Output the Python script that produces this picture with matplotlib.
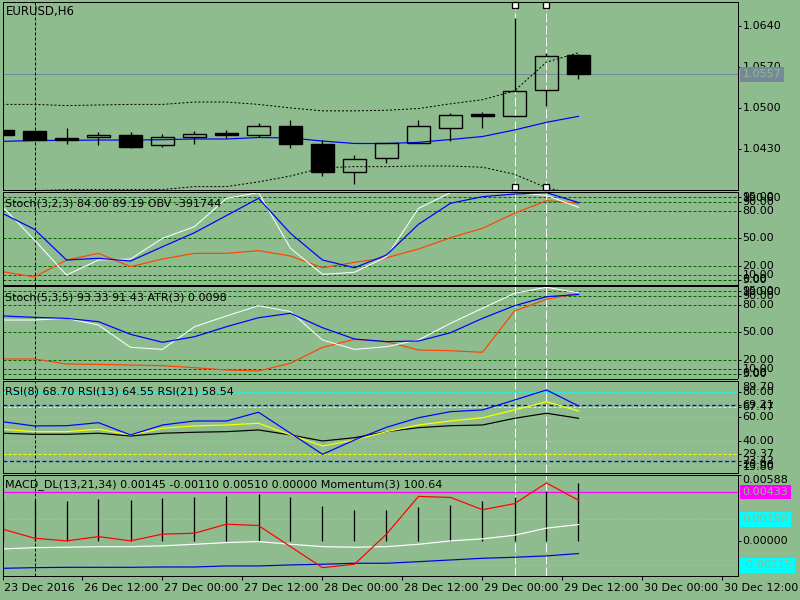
import matplotlib
matplotlib.use("Agg")
import matplotlib.pyplot as plt
from matplotlib.patches import Rectangle
from matplotlib import transforms as mtrans

plt.rcParams['font.family'] = ['DejaVu Sans']
plt.rcParams['font.size'] = 8

BG = '#8FBC8F'
PX = 0.72  # one pixel in points at 100 dpi

# ---------------- data ----------------
symbol_label = "EURUSD,H6"
bars = list(range(19))
opens  = [1.0462, 1.0461, 1.0449, 1.0450, 1.0454, 1.0436, 1.0451, 1.0457, 1.0454, 1.0469,
          1.0439, 1.0391, 1.0414, 1.0441, 1.0466, 1.0490, 1.0487, 1.0530, 1.0590]
highs  = [1.0463, 1.0461, 1.0466, 1.0459, 1.0459, 1.0456, 1.0460, 1.0462, 1.0475, 1.0479,
          1.0445, 1.0419, 1.0441, 1.0479, 1.0492, 1.0493, 1.0653, 1.0593, 1.0591]
lows   = [1.0454, 1.0445, 1.0439, 1.0436, 1.0431, 1.0433, 1.0439, 1.0449, 1.0451, 1.0432,
          1.0384, 1.0371, 1.0407, 1.0441, 1.0444, 1.0465, 1.0484, 1.0503, 1.0549]
closes = [1.0454, 1.0445, 1.0445, 1.0454, 1.0434, 1.0451, 1.0456, 1.0454, 1.0469, 1.0439,
          1.0391, 1.0413, 1.0441, 1.0469, 1.0488, 1.0487, 1.0529, 1.0588, 1.0557]
ma_line = [1.04430, 1.04445, 1.04448, 1.04453, 1.04453, 1.04459, 1.04471, 1.04471, 1.04496, 1.04488,
           1.04436, 1.04394, 1.04394, 1.04414, 1.04462, 1.04513, 1.04624, 1.04755, 1.04857]
env_upper = [1.0506, 1.0506, 1.0504, 1.0505, 1.0506, 1.0506, 1.0510, 1.0510, 1.0506, 1.0500,
             1.0495, 1.0495, 1.0496, 1.0499, 1.0507, 1.0514, 1.0529, 1.0578, 1.0594]
env_lower = [1.0357, 1.0359, 1.0361, 1.0361, 1.0361, 1.0361, 1.0366, 1.0366, 1.0374, 1.0384,
             1.0398, 1.0400, 1.0400, 1.0401, 1.0401, 1.0399, 1.0387, 1.0364, 1.0352]
price_ticks = [1.0640, 1.0570, 1.0500, 1.0430]
last_price = 1.0557

stoch1_label = "Stoch(3,2,3) 84.00 89.19 OBV -391744"
stoch1_main   = [84.7, 48.3, 10.1, 26.5, 27.6, 50.2, 62.9, 93.8, 100, 39.3,
                 10.9, 13.1, 30.1, 82.9, 100, 100, 100, 97, 84.0]
stoch1_signal = [77.4, 60, 26.5, 28.4, 25.4, 41, 56.3, 75, 93.8, 55.6,
                 26.5, 18.1, 32, 65.5, 88.4, 95.6, 98.5, 100, 89.19]
obv_scaled    = [13.8, 8, 26.5, 33.8, 19.2, 27.6, 33.8, 33.8, 36.7, 30.9,
                 18.1, 24, 29, 38.5, 50.8, 61.1, 77.5, 91.2, 88.4]

stoch2_label = "Stoch(5,3,5) 93.33 91.43 ATR(3) 0.0098"
stoch2_main   = [63.6, 63.6, 65.4, 58.1, 33.8, 31.6, 56.3, 68, 79.2, 72.7,
                 41.8, 31.6, 34.5, 41.8, 60, 76.4, 92.7, 99.3, 93.33]
stoch2_signal = [68, 66.5, 65.4, 61.8, 48, 39.3, 45.4, 56.3, 66.1, 70.9,
                 55.2, 42.9, 40, 40.7, 49.7, 65.4, 79.2, 89, 91.43]
atr_scaled    = [21.1, 21.1, 15.6, 15.2, 14.5, 13.8, 11.6, 9.1, 8, 16.4,
                 33.8, 42.5, 40, 30.9, 30.1, 28.4, 73.4, 86.2, 92.7]
stoch_levels = [95, 90, 80, 50, 20, 10, 5]

rsi_label = "RSI(8) 68.70 RSI(13) 64.55 RSI(21) 58.54"
rsi8  = [55.7, 52.2, 52.4, 54.9, 44.8, 53, 56.3, 56.3, 63.5, 46.2,
         28.8, 40.6, 51.1, 59, 64, 65.4, 73.6, 81.9, 68.70]
rsi13 = [49.5, 47.5, 47.5, 49.5, 44.8, 50.3, 52.2, 53, 54.4, 44.8,
         35.7, 40.6, 47.5, 53, 56.3, 59, 65.4, 72.2, 64.55]
rsi21 = [46.2, 45.3, 45.3, 46.2, 43.9, 46.2, 47, 47.5, 48.9, 44.8,
         39.8, 42.5, 47.5, 50.8, 52.4, 53, 58.5, 62.7, 58.54]
rsi_cyan_levels = [80, 60, 40, 20]
rsi_blue_levels = [69.21, 23.42]
rsi_yellow_levels = [67.47, 29.37]
rsi_range = (13.80, 89.70)

macd_label = "MACD_DL(13,21,34) 0.00145 -0.00110 0.00510 0.00000 Momentum(3) 100.64"
macd_hist = [0.00360, 0.00365, 0.00356, 0.00373, 0.00362, 0.00380, 0.00391, 0.00400, 0.00418, 0.00391,
             0.00311, 0.00276, 0.00276, 0.00296, 0.00320, 0.00349, 0.00390, 0.00440, 0.00510]
momentum_scaled = [0.00104, 0.00024, 0.0, 0.00038, 0.0, 0.00060, 0.00068, 0.00148, 0.00136, -0.00051,
                   -0.00237, -0.00207, 0.00060, 0.00394, 0.00385, 0.00276, 0.00330, 0.00513, 0.00360]
macd_white = [-0.00071, -0.00060, -0.00056, -0.00051, -0.00051, -0.00044, -0.00030, -0.00015, -0.00006, -0.00030,
              -0.00051, -0.00056, -0.00051, -0.00030, 0.0, 0.00018, 0.00050, 0.00113, 0.00145]
macd_blue = [-0.00243, -0.00237, -0.00234, -0.00234, -0.00234, -0.00231, -0.00231, -0.00222, -0.00222, -0.00213,
             -0.00207, -0.00198, -0.00198, -0.00184, -0.00169, -0.00154, -0.00145, -0.00133, -0.00112]
macd_magenta_level = 0.00433
macd_cyan_levels = [0.00190, -0.00215]
macd_range = (-0.00311, 0.00588)

time_tick_pos = [0, 2.5, 5, 7.5, 10, 12.5, 15, 17.5, 20, 22.5]
time_tick_labels = ["23 Dec 2016", "26 Dec 12:00", "27 Dec 00:00", "27 Dec 12:00", "28 Dec 00:00",
                    "28 Dec 12:00", "29 Dec 00:00", "29 Dec 12:00", "30 Dec 00:00", "30 Dec 12:00"]
cursor_bar = 1
marker_bars = [16, 17]

# ---------------- figure ----------------
fig = plt.figure(figsize=(8, 6), dpi=100, facecolor=BG)
XMAX = 735 / 32.0


def panel(top, bottom):
    ax = fig.add_axes([2.5 / 800, 1 - bottom / 600, 735 / 800, (bottom - top) / 600])
    ax.set_facecolor(BG)
    for s in ax.spines.values():
        s.set_linewidth(PX)
        s.set_color('black')
        s.set_zorder(10)
    ax.set_xlim(0, XMAX)
    ax.set_xticks([])
    ax.set_yticks([])
    return ax


def rlabel(ax, v, s, va='center', color='black', box=None, tick=True, dy=0):
    if tick:
        tr = mtrans.blended_transform_factory(ax.transAxes, ax.transData)
        ax.plot([1, 1 + 4 / 735], [v, v], transform=tr, color='black', lw=PX,
                clip_on=False, solid_capstyle='butt')
    bb = None
    if box is not None:
        bb = dict(boxstyle='square,pad=0.22', fc=box, ec='none')
    ax.annotate(s, xy=(1, v), xycoords=('axes fraction', 'data'),
                xytext=(5 * PX, dy * PX), textcoords='offset points',
                va=va, ha='left', color=color, bbox=bb, annotation_clip=False,
                zorder=12)


def vlines_common(ax):
    ax.axvline(cursor_bar, color='black', lw=PX, ls=(0, (3, 2)), zorder=2)
    for b in marker_bars:
        ax.axvline(b, color='white', lw=PX, ls=(0, (9, 3)), zorder=2)


def ptext(x, y, s, **kw):
    fig.text(x / 800, 1 - y / 600, s, va='center', ha='left', **kw)


# ---- main price panel ----
ax0 = panel(2, 190)
ax0.set_ylim(1.03602, 1.06804)
ax0.axhline(last_price, color='#778899', lw=PX, zorder=1)
vlines_common(ax0)
ax0.plot(bars, env_upper, color='black', lw=PX, ls=(0, (2, 2)), zorder=3)
ax0.plot(bars, env_lower, color='black', lw=PX, ls=(0, (2, 2)), zorder=3)
ax0.plot(bars, ma_line, color='#0000FF', lw=PX * 1.2, zorder=3)
w = 0.69
for i, o, h, l, c in zip(bars, opens, highs, lows, closes):
    top, bot = max(o, c), min(o, c)
    ax0.plot([i, i], [top, h], color='black', lw=PX * 1.3, zorder=4, solid_capstyle='butt')
    ax0.plot([i, i], [l, bot], color='black', lw=PX * 1.3, zorder=4, solid_capstyle='butt')
    fc = 'black' if c < o else 'none'
    ax0.add_patch(Rectangle((i - w / 2, bot), w, max(top - bot, 0.00002), fc=fc,
                            ec='black', lw=PX * 1.4, zorder=5))
tr0 = mtrans.blended_transform_factory(ax0.transData, ax0.transAxes)
for b in marker_bars:
    ax0.plot([b, b], [0.984, 0.016], transform=tr0, ls='none', marker='s', ms=4.2,
             mfc='white', mec='black', mew=PX * 1.3, zorder=9, clip_on=False)
for p in price_ticks:
    rlabel(ax0, p, f"{p:.4f}")
rlabel(ax0, last_price, f"{last_price:.4f}", color=BG, box='#778899', tick=False)
ptext(6, 12, symbol_label, fontsize=8.5)


# ---- stochastic panels ----
def stoch_panel(top, bottom, main, signal, extra, label, label_y):
    ax = panel(top, bottom)
    ax.set_ylim(-0.2, 100.7)
    for lv in stoch_levels:
        ax.axhline(lv, color='#006400', lw=PX, ls=(0, (3, 2)), zorder=1)
    vlines_common(ax)
    ax.plot(bars, extra, color='#FF4500', lw=PX * 1.2, zorder=4)
    ax.plot(bars, main, color='white', lw=PX, zorder=4)
    ax.plot(bars, signal, color='#0000FF', lw=PX * 1.2, zorder=5)
    for lv in stoch_levels:
        rlabel(ax, lv, f"{lv:.2f}")
    rlabel(ax, 100.7, "100.00", va='top', tick=False, dy=-1)
    rlabel(ax, -0.2, "0.00", va='bottom', tick=False, dy=1)
    ptext(5, label_y, label)
    return ax


ax1 = stoch_panel(192, 284.5, stoch1_main, stoch1_signal, obv_scaled, stoch1_label, 203.5)
ax2 = stoch_panel(286, 378.5, stoch2_main, stoch2_signal, atr_scaled, stoch2_label, 297.5)

# ---- RSI panel ----
ax3 = panel(380.5, 472.5)
ax3.set_ylim(*rsi_range)
for lv in rsi_cyan_levels:
    ax3.axhline(lv, color='#00FFFF', lw=PX, ls=(0, (3, 2)), zorder=1)
for lv in rsi_blue_levels:
    ax3.axhline(lv, color='#0000FF', lw=PX * 1.3, ls=(0, (3, 2)), zorder=1)
for lv in rsi_yellow_levels:
    ax3.axhline(lv, color='#FFFF00', lw=PX, ls=(0, (3, 2)), zorder=1)
vlines_common(ax3)
ax3.plot(bars, rsi21, color='black', lw=PX * 1.2, zorder=4)
ax3.plot(bars, rsi13, color='#FFFF00', lw=PX * 1.2, zorder=4)
ax3.plot(bars, rsi8, color='#0000FF', lw=PX * 1.2, zorder=5)
for lv in rsi_cyan_levels + rsi_blue_levels + rsi_yellow_levels:
    rlabel(ax3, lv, f"{lv:.2f}")
rlabel(ax3, rsi_range[1], f"{rsi_range[1]:.2f}", va='top', tick=False, dy=-1)
rlabel(ax3, rsi_range[0], f"{rsi_range[0]:.2f}", va='bottom', tick=False, dy=1)
ptext(5, 391.5, rsi_label)

# ---- MACD / Momentum panel ----
ax4 = panel(474.5, 576)
ax4.set_ylim(*macd_range)
ax4.axhline(macd_magenta_level, color='#FF00FF', lw=PX * 1.2, zorder=1)
for lv in macd_cyan_levels:
    ax4.axhline(lv, color='#00FFFF', lw=PX, ls=(0, (3, 2)), zorder=1)
vlines_common(ax4)
ax4.vlines(bars, 0, macd_hist, color='black', lw=PX * 1.3, zorder=3)
ax4.plot(bars, macd_blue, color='#0000DD', lw=PX * 1.2, zorder=4)
ax4.plot(bars, macd_white, color='white', lw=PX * 1.2, zorder=4)
ax4.plot(bars, momentum_scaled, color='#FF0000', lw=PX * 1.2, zorder=5)
rlabel(ax4, macd_range[1], f"{macd_range[1]:.5f}", va='top', tick=True, dy=-0.5)
rlabel(ax4, macd_range[0], f"{macd_range[0]:.5f}", va='bottom', tick=False, dy=1)
rlabel(ax4, 0.0, "0.00000")
rlabel(ax4, macd_magenta_level, f"{macd_magenta_level:.5f}", color=BG, box='#FF00FF', tick=False)
for lv in macd_cyan_levels:
    rlabel(ax4, lv, f"{lv:.5f}", color=BG, box='#00FFFF', tick=False)
ptext(5, 485, macd_label)

ax4.set_xticks(time_tick_pos)
ax4.set_xticklabels(time_tick_labels)
ax4.tick_params(axis='x', direction='out', length=4 * PX, width=PX, pad=2, labelsize=8)
off = mtrans.ScaledTranslation(2 / 100, 0, fig.dpi_scale_trans)
for lab in ax4.get_xticklabels():
    lab.set_ha('left')
    lab.set_transform(lab.get_transform() + off)

fig.savefig('out.png', dpi=100, facecolor=BG)
